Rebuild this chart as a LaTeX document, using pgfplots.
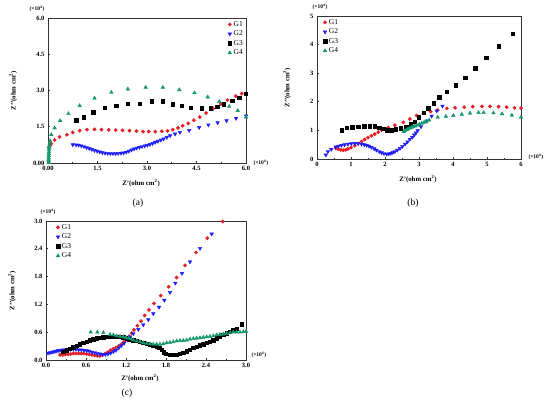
\documentclass[border=0pt]{standalone}
\usepackage{fontspec}
\setmainfont{Liberation Serif}
\usepackage{pgfplots}
\pgfplotsset{compat=1.18}
\definecolor{cG1}{RGB}{228,30,36}
\definecolor{cG2}{RGB}{30,30,250}
\definecolor{cG3}{RGB}{0,0,0}
\definecolor{cG4}{RGB}{20,150,110}
\pgfplotsset{
  panel/.style={
    scale only axis, clip=false,
    axis line style={line width=0.8pt, black!80},
    tick align=inside, xtick pos=left, ytick pos=left,
    major tick length=2.2pt, minor tick length=1.2pt,
    tick style={line width=0.6pt, black!80},
    minor x tick num=1, minor y tick num=1,
    tick label style={font=\bfseries\fontsize{6.5}{7}\selectfont},
    label style={font=\bfseries\fontsize{6.8}{7}\selectfont},
    /pgf/number format/assume math mode=true,
    ylabel={Z'{}'(ohm cm\textsuperscript{2})},
    xlabel={Z'(ohm cm\textsuperscript{2})},
    legend style={draw=none, fill=none, font=\fontsize{7.5}{8}\selectfont, inner sep=1pt, row sep=-1pt},
    legend cell align=left,
  },
  g1/.style={only marks, mark=*, mark size=1.7pt, color=cG1},
  g2/.style={only marks, mark=triangle*, mark size=2.1pt, color=cG2, mark options={rotate=180}},
  g3/.style={only marks, mark=square*, mark size=1.7pt, color=cG3},
  g4/.style={only marks, mark=triangle*, mark size=2.1pt, color=cG4},
}
\newcommand{\mult}{(\texttimes10\textsuperscript{4})}
\begin{document}
\begin{tikzpicture}
\path[use as bounding box] (0,0) rectangle (550pt,401pt);
% ---------------- (a)
\begin{axis}[panel, at={(48pt,238pt)}, anchor=south west, width=198pt, height=145pt,
  xmin=0, xmax=6, ymin=0, ymax=6,
  xtick={0,1.5,3,4.5,6}, xticklabels={0.00,1.5,3.0,4.5,6.0},
  ytick={0,1.5,3,4.5,6}, yticklabels={0.00,1.5,3.0,4.5,6.0},
  ylabel style={at={(axis description cs:-0.175,0.5)}, anchor=center},
  xlabel style={at={(axis description cs:0.47,-0.14)}, anchor=center},
  legend style={at={(1,1)}, anchor=north east},
]
\addplot[g1] coordinates {
(0.03,0.62)(0.06,0.72)(0.1,0.80)(0.2,0.95)(0.35,1.08)(0.57,1.17)(0.75,1.27)(0.96,1.34)
(1.18,1.38)(1.41,1.39)(1.62,1.38)(1.84,1.37)(2.05,1.36)(2.26,1.35)(2.47,1.34)(2.68,1.32)
(2.88,1.30)(3.05,1.30)(3.25,1.30)(3.45,1.31)(3.62,1.33)(3.78,1.38)(3.94,1.45)(4.08,1.54)
(4.25,1.64)(4.42,1.77)(4.6,1.90)(4.79,2.07)(5.01,2.25)(5.24,2.44)(5.44,2.60)(5.69,2.77)(5.87,2.87)};
\addlegendentry{G1}
\addplot[g2] coordinates {
(0.75,0.76)(0.85,0.75)(0.93,0.74)(1.01,0.71)(1.09,0.68)(1.17,0.64)(1.25,0.60)(1.33,0.56)
(1.41,0.52)(1.49,0.49)(1.57,0.46)(1.65,0.43)(1.73,0.41)(1.81,0.40)(1.89,0.39)(1.97,0.39)
(2.05,0.39)(2.13,0.40)(2.21,0.41)(2.29,0.42)(2.37,0.45)(2.45,0.49)(2.53,0.54)(2.61,0.58)
(2.69,0.62)(2.77,0.65)(2.85,0.68)(2.93,0.71)(3.01,0.74)(3.09,0.77)(3.17,0.81)(3.25,0.86)
(3.33,0.90)(3.42,0.95)(3.5,1.00)(3.6,1.06)(3.7,1.13)(3.85,1.20)(4.0,1.27)(4.28,1.35)
(4.58,1.47)(4.86,1.58)(5.14,1.67)(5.41,1.75)(5.7,1.85)(6.0,1.95)};
\addlegendentry{G2}
\addplot[g3] coordinates {
(0.85,1.77)(1.09,1.90)(1.37,2.10)(1.71,2.28)(2.07,2.37)(2.42,2.46)(2.77,2.46)(3.15,2.55)
(3.48,2.55)(3.78,2.44)(4.05,2.37)(4.33,2.30)(4.66,2.26)(4.93,2.26)(5.13,2.34)(5.33,2.44)
(5.58,2.58)(5.8,2.69)(6.0,2.87)};
\addlegendentry{G3}
\addplot[g4] coordinates {
(0.02,0.02)(0.02,0.08)(0.02,0.15)(0.02,0.22)(0.025,0.30)(0.025,0.38)(0.03,0.46)(0.03,0.55)
(0.035,0.64)(0.04,0.72)(0.05,0.82)(0.06,0.92)(0.1,1.17)(0.2,1.45)(0.37,1.75)(0.62,2.04)
(0.96,2.37)(1.41,2.68)(1.92,2.92)(2.42,3.06)(2.96,3.13)(3.48,3.13)(3.98,3.03)(4.44,2.90)
(4.84,2.73)(5.19,2.54)(5.49,2.34)(5.75,2.17)(6.0,1.90)};
\addlegendentry{G4}
\node[font=\bfseries\fontsize{5.5}{6}\selectfont, anchor=south] at ([xshift=-11pt,yshift=3pt]rel axis cs:0,1) {\mult};
\node[font=\bfseries\fontsize{5.5}{6}\selectfont, anchor=west] at ([xshift=4pt]rel axis cs:1,0) {\mult};
\end{axis}
% ---------------- (b)
\begin{axis}[panel, at={(317pt,242pt)}, anchor=south west, width=204pt, height=143pt,
  xmin=0, xmax=6, ymin=0, ymax=5,
  xtick={0,1,...,6}, ytick={0,1,...,5},
  ylabel style={at={(axis description cs:-0.147,0.5)}, anchor=center},
  xlabel style={at={(axis description cs:0.495,-0.14)}, anchor=center},
  legend style={at={(0,1)}, anchor=north west, xshift=5pt},
]
\addplot[g1] coordinates {
(0.55,0.38)(0.62,0.35)(0.7,0.32)(0.77,0.31)(0.84,0.32)(0.91,0.35)(1.0,0.40)(1.11,0.47)
(1.21,0.54)(1.31,0.61)(1.4,0.68)(1.5,0.75)(1.6,0.81)(1.7,0.87)(1.8,0.94)(1.9,1.01)
(2.09,1.10)(2.29,1.18)(2.54,1.28)(2.73,1.40)(2.93,1.52)(3.13,1.60)(3.34,1.66)(3.55,1.71)
(3.82,1.77)(4.06,1.79)(4.33,1.81)(4.58,1.83)(4.85,1.84)(5.09,1.84)(5.34,1.83)(5.58,1.81)
(5.81,1.79)(6.0,1.78)};
\addlegendentry{G1}
\addplot[g2] coordinates {
(0.26,0.14)(0.32,0.26)(0.42,0.34)(0.55,0.42)(0.63,0.45)(0.72,0.48)(0.81,0.50)(0.91,0.52)
(1.01,0.54)(1.11,0.55)(1.21,0.54)(1.31,0.52)(1.39,0.50)(1.46,0.48)(1.53,0.45)(1.6,0.41)
(1.68,0.36)(1.75,0.31)(1.83,0.26)(1.9,0.22)(1.97,0.19)(2.05,0.17)(2.11,0.18)(2.17,0.20)
(2.23,0.23)(2.29,0.26)(2.36,0.31)(2.44,0.37)(2.51,0.44)(2.59,0.52)(2.66,0.60)(2.73,0.69)
(2.8,0.76)(2.86,0.84)(2.91,0.91)(2.96,0.99)(3.06,1.13)(3.23,1.33)(3.37,1.50)(3.52,1.68)
(3.69,1.85)};
\addlegendentry{G2}
\addplot[g3] coordinates {
(0.72,1.01)(0.87,1.10)(1.04,1.11)(1.21,1.13)(1.39,1.14)(1.55,1.15)(1.7,1.14)(1.83,1.10)
(1.95,1.05)(2.07,1.01)(2.19,1.01)(2.32,1.04)(2.47,1.07)(2.62,1.13)(2.76,1.21)(2.88,1.31)
(3.0,1.46)(3.13,1.62)(3.27,1.77)(3.44,1.95)(3.6,2.16)(3.82,2.35)(4.08,2.58)(4.36,2.84)
(4.65,3.17)(4.98,3.54)(5.34,3.95)(5.76,4.39)};
\addlegendentry{G3}
\addplot[g4] coordinates {
(2.55,0.96)(2.59,0.99)(2.64,1.02)(2.68,1.05)(2.73,1.08)(2.78,1.10)(2.83,1.13)(2.88,1.15)
(2.94,1.18)(3.01,1.21)(3.08,1.25)(3.15,1.28)(3.22,1.32)(3.3,1.36)(3.55,1.46)(3.79,1.49)
(4.01,1.52)(4.26,1.56)(4.5,1.60)(4.75,1.62)(4.9,1.62)(5.19,1.61)(5.44,1.58)(5.73,1.53)(6.0,1.46)};
\addlegendentry{G4}
\node[font=\bfseries\fontsize{5.5}{6}\selectfont, anchor=south] at ([xshift=3pt,yshift=3pt]rel axis cs:0,1) {\mult};
\node[font=\bfseries\fontsize{5.5}{6}\selectfont, anchor=west] at ([xshift=4pt,yshift=2pt]rel axis cs:1,0) {\mult};
\end{axis}
% ---------------- (c)
\begin{axis}[panel, at={(46pt,41pt)}, anchor=south west, width=200pt, height=139pt,
  xmin=0, xmax=3, ymin=0, ymax=3,
  xtick={0,0.6,...,3.0}, xticklabels={0.0,0.6,1.2,1.8,2.4,3.0},
  ytick={0,0.6,...,3.0}, yticklabels={0.0,0.6,1.2,1.8,2.4,3.0},
  ylabel style={at={(axis description cs:-0.17,0.5)}, anchor=center},
  xlabel style={at={(axis description cs:0.47,-0.13)}, anchor=center},
  legend style={at={(0,1)}, anchor=north west, xshift=9pt},
]
\addplot[g1] coordinates {
(0.21,0.11)(0.25,0.11)(0.29,0.12)(0.33,0.12)(0.37,0.13)(0.41,0.14)(0.45,0.14)(0.49,0.14)
(0.53,0.14)(0.57,0.14)(0.61,0.13)(0.65,0.12)(0.69,0.11)(0.73,0.10)(0.77,0.09)(0.81,0.09)
(0.85,0.11)(0.89,0.14)(0.93,0.17)(0.97,0.21)(1.01,0.24)(1.05,0.27)(1.09,0.30)(1.13,0.34)
(1.17,0.39)(1.21,0.45)(1.25,0.51)(1.285,0.58)(1.32,0.65)(1.37,0.74)(1.425,0.84)(1.48,0.96)
(1.545,1.08)(1.62,1.22)(1.72,1.39)(1.84,1.58)(1.96,1.78)(2.085,2.04)(2.25,2.32)(2.42,2.63)(2.65,2.99)};
\addlegendentry{G1}
\addplot[g2] coordinates {
(0.03,0.15)(0.06,0.16)(0.09,0.17)(0.12,0.18)(0.15,0.19)(0.18,0.20)(0.21,0.21)(0.25,0.22)
(0.29,0.22)(0.33,0.23)(0.37,0.23)(0.41,0.23)(0.45,0.23)(0.49,0.22)(0.53,0.22)(0.57,0.21)
(0.61,0.20)(0.65,0.19)(0.69,0.17)(0.73,0.16)(0.77,0.14)(0.81,0.13)(0.85,0.12)(0.89,0.12)
(0.93,0.13)(0.97,0.15)(1.01,0.18)(1.05,0.21)(1.09,0.26)(1.13,0.31)(1.17,0.36)(1.22,0.43)
(1.26,0.50)(1.31,0.57)(1.385,0.66)(1.46,0.76)(1.535,0.87)(1.61,1.00)(1.695,1.14)(1.775,1.29)
(1.86,1.46)(1.94,1.66)(2.04,1.87)(2.16,2.12)(2.31,2.41)(2.485,2.72)};
\addlegendentry{G2}
\addplot[g3] coordinates {
(0.26,0.18)(0.31,0.21)(0.36,0.24)(0.41,0.28)(0.46,0.31)(0.51,0.34)(0.56,0.37)(0.61,0.40)
(0.66,0.43)(0.71,0.45)(0.76,0.47)(0.81,0.48)(0.86,0.49)(0.91,0.50)(0.96,0.50)(1.01,0.50)
(1.06,0.50)(1.11,0.50)(1.16,0.49)(1.21,0.47)(1.26,0.45)(1.31,0.43)(1.36,0.41)(1.41,0.39)
(1.46,0.37)(1.51,0.35)(1.56,0.33)(1.61,0.31)(1.66,0.29)(1.70,0.26)(1.74,0.22)(1.77,0.17)
(1.80,0.13)(1.86,0.11)(1.91,0.11)(1.96,0.12)(2.01,0.14)(2.06,0.16)(2.11,0.19)(2.16,0.22)
(2.21,0.26)(2.26,0.29)(2.31,0.32)(2.36,0.34)(2.41,0.37)(2.46,0.39)(2.51,0.43)(2.56,0.47)
(2.61,0.50)(2.66,0.54)(2.71,0.58)(2.76,0.61)(2.81,0.65)(2.86,0.68)(2.94,0.77)};
\addlegendentry{G3}
\addplot[g4] coordinates {
(0.67,0.60)(0.77,0.60)(0.86,0.59)(0.96,0.55)(1.01,0.54)(1.06,0.52)(1.11,0.51)(1.16,0.50)
(1.2,0.48)(1.24,0.47)(1.28,0.45)(1.31,0.43)(1.36,0.41)(1.41,0.39)(1.46,0.37)(1.51,0.36)
(1.56,0.35)(1.61,0.34)(1.66,0.34)(1.71,0.34)(1.76,0.35)(1.81,0.37)(1.86,0.38)(1.91,0.39)
(1.96,0.41)(2.01,0.42)(2.06,0.42)(2.11,0.43)(2.16,0.45)(2.21,0.46)(2.26,0.47)(2.31,0.48)
(2.36,0.49)(2.41,0.50)(2.46,0.51)(2.51,0.52)(2.56,0.54)(2.61,0.55)(2.66,0.56)(2.71,0.57)
(2.76,0.59)(2.81,0.60)(2.86,0.60)(2.91,0.60)(2.96,0.61)(3.0,0.62)};
\addlegendentry{G4}
\node[font=\bfseries\fontsize{5.5}{6}\selectfont, anchor=south] at ([xshift=2pt,yshift=3pt]rel axis cs:0,1) {\mult};
\node[font=\bfseries\fontsize{5.5}{6}\selectfont, anchor=west] at ([xshift=2pt,yshift=5pt]rel axis cs:1,0) {\mult};
\end{axis}
\node[font=\fontsize{9.5}{10}\selectfont] at (138pt,198pt) {(a)};
\node[font=\fontsize{9.5}{10}\selectfont] at (413pt,198pt) {(b)};
\node[font=\fontsize{9.5}{10}\selectfont] at (127pt,8pt) {(c)};
\end{tikzpicture}
\end{document}
